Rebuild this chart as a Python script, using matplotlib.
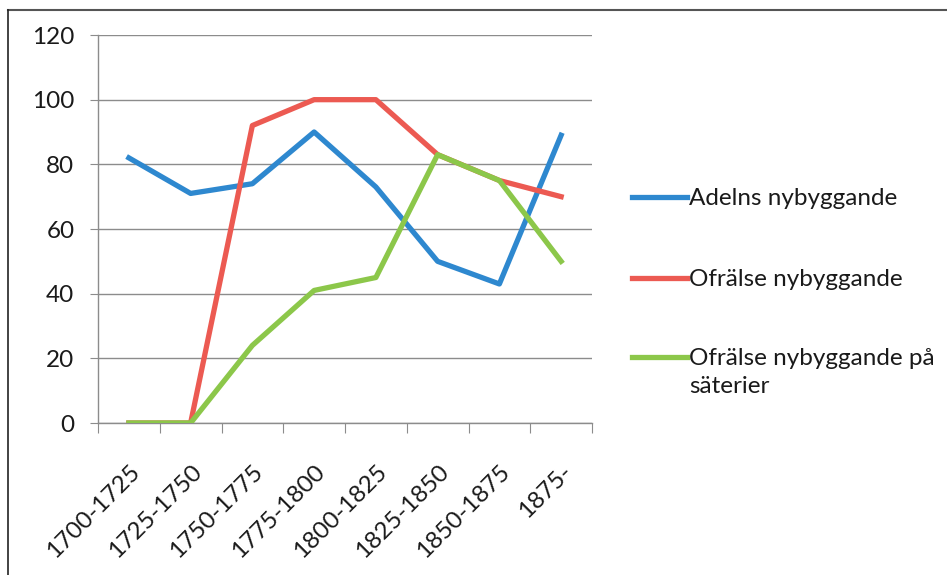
import numpy as np
import matplotlib
matplotlib.use('Agg')
import matplotlib.pyplot as plt
from matplotlib.lines import Line2D

plt.rcParams['font.family'] = ['Lato', 'DejaVu Sans']

# period labels
periods = ['1700-1725', '1725-1750', '1750-1775', '1775-1800',
           '1800-1825', '1825-1850', '1850-1875', '1875-']

# values
adel = [82, 71, 74, 90, 73, 50, 43, 89]
ofralse = [0, 0, 92, 100, 100, 83, 75, 70]
ofralse_sateri = [0, 0, 24, 41, 45, 83, 75, 50]

names = ['Adelns nybyggande', 'Ofrälse nybyggande', 'Ofrälse nybyggande på\nsäterier']
colors = ['#2E88CF', '#EC5A52', '#8CC74A']

W, H = 947, 575
fig = plt.figure(figsize=(W/100, H/100), dpi=100)
ax = fig.add_axes([98/W, 1-423/H, (592-98)/W, (423-35)/H])

x = np.arange(len(periods))
series = [adel, ofralse, ofralse_sateri]
for vals, c in zip(series, colors):
    ax.plot(x, vals, color=c, lw=3.8, solid_joinstyle='round', zorder=3)

ax.set_xlim(-0.5, len(periods)-0.5)
ax.set_ylim(0, 120)
ax.set_yticks(range(0, 121, 20))
ax.yaxis.grid(True, color='#8c8c8c', lw=1)
ax.set_axisbelow(True)
for s in ['top', 'right']:
    ax.spines[s].set_visible(False)
for s in ['left', 'bottom']:
    ax.spines[s].set_color('#8c8c8c')
    ax.spines[s].set_linewidth(1)

fs = 17.5
ax.tick_params(axis='y', length=6, color='#8c8c8c', labelsize=fs, pad=11, labelcolor='#1a1a1a')
# x ticks at category boundaries, labels at centres
ax.set_xticks(np.arange(-0.5, len(periods)), minor=False)
ax.set_xticklabels([])
ax.tick_params(axis='x', which='major', length=7, color='#8c8c8c')
ax.set_xticks(x, minor=True)
ax.set_xticklabels(periods, minor=True, rotation=45, ha='right', va='top',
                   rotation_mode='anchor', fontsize=fs, color='#1a1a1a')
ax.tick_params(axis='x', which='minor', length=0, pad=27)

# legend
leg_y = [197, 278, 357]
for name, c, yy in zip(names, colors, leg_y):
    fig.add_artist(Line2D([632/W, 687/W], [1-yy/H, 1-yy/H], color=c, lw=3.8,
                          transform=fig.transFigure))
    fig.text(689/W, 1-(yy-9)/H, name, fontsize=fs, color='#1a1a1a',
             va='top', ha='left', linespacing=1.42)

# border lines (top and left)
fig.add_artist(Line2D([8/W, 1], [1-10/H, 1-10/H], color='#555555', lw=1.5,
                      transform=fig.transFigure))
fig.add_artist(Line2D([8/W, 8/W], [0, 1-10/H], color='#222222', lw=1.2,
                      transform=fig.transFigure))

fig.savefig('out.png', dpi=100)
